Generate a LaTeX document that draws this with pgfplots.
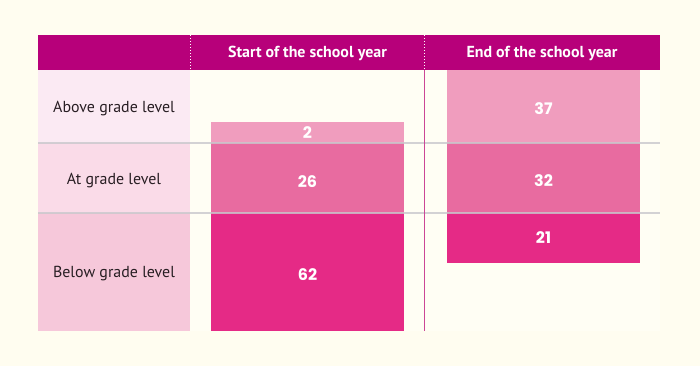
\documentclass[border=0pt]{standalone}
\usepackage{fontspec}
\setmainfont{PT Sans}
\newfontfamily\headfont{PT Sans}
\newfontfamily\numfont{Poppins}
\usepackage{pgfplots}
\pgfplotsset{compat=1.18}
\definecolor{bgcream}{RGB}{255,253,240}
\definecolor{tablebg}{RGB}{255,254,244}
\definecolor{header}{RGB}{183,0,122}
\definecolor{rowA}{RGB}{251,234,243}
\definecolor{rowB}{RGB}{250,219,232}
\definecolor{rowC}{RGB}{246,200,218}
\definecolor{barA}{RGB}{240,157,190}
\definecolor{barB}{RGB}{232,107,160}
\definecolor{barC}{RGB}{229,42,134}
\definecolor{gridgrey}{RGB}{200,200,204}
\definecolor{vline}{RGB}{204,70,150}
\definecolor{labeltext}{RGB}{40,30,35}
\begin{document}
\begin{tikzpicture}
\begin{axis}[scale only axis, width=700bp, height=366bp,
  xmin=0, xmax=700, ymin=0, ymax=366, y dir=reverse,
  hide axis, clip=false]
% background
\fill[bgcream] (axis cs:0,0) rectangle (axis cs:700,366);
\fill[tablebg] (axis cs:38,70) rectangle (axis cs:660,331);
% header
\fill[header] (axis cs:38,35) rectangle (axis cs:660,70);
\draw[white, dotted, line width=1bp] (axis cs:190,35) -- (axis cs:190,70);
\draw[white, dotted, line width=1bp] (axis cs:424,35) -- (axis cs:424,70);
% row label cells
\fill[rowA] (axis cs:38,70) rectangle (axis cs:190,143);
\fill[rowB] (axis cs:38,143) rectangle (axis cs:190,213);
\fill[rowC] (axis cs:38,213) rectangle (axis cs:190,331);
% start of the school year bars (stacked from bottom: 62, 26, 2)
\addplot[fill=barC, draw=none] coordinates {(211,213) (404,213) (404,331) (211,331)} -- cycle;
\addplot[fill=barB, draw=none] coordinates {(211,143) (404,143) (404,213) (211,213)} -- cycle;
\addplot[fill=barA, draw=none] coordinates {(211,122) (404,122) (404,143) (211,143)} -- cycle;
% end of the school year bars (hanging from top: 37, 32, 21)
\addplot[fill=barA, draw=none] coordinates {(447,70) (640,70) (640,143) (447,143)} -- cycle;
\addplot[fill=barB, draw=none] coordinates {(447,143) (640,143) (640,213) (447,213)} -- cycle;
\addplot[fill=barC, draw=none] coordinates {(447,213) (640,213) (640,263) (447,263)} -- cycle;
% grid lines
\draw[gridgrey, line width=1.2bp, opacity=0.8] (axis cs:38,143) -- (axis cs:660,143);
\draw[gridgrey, line width=1.2bp, opacity=0.8] (axis cs:38,213) -- (axis cs:660,213);
% vertical separator
\draw[vline, line width=1bp] (axis cs:424,70) -- (axis cs:424,331);
% values
\addplot[draw=none, nodes near coords, point meta=explicit symbolic,
  every node near coord/.append style={anchor=center, text=white,
  font=\numfont\bfseries\fontsize{16}{16}\selectfont}]
  coordinates {(307.5,133) [2] (307.5,182) [26] (307.5,275) [62]
               (543.5,109) [37] (543.5,181) [32] (543.5,238) [21]};
% header text
\node[text=white, font=\headfont\bfseries\fontsize{16}{16}\selectfont] at (axis cs:307.5,53) {Start of the school year};
\node[text=white, font=\headfont\bfseries\fontsize{16}{16}\selectfont] at (axis cs:542,53) {End of the school year};
% row labels
\node[text=labeltext, font=\fontsize{16}{16}\selectfont] at (axis cs:114,109) {Above grade level};
\node[text=labeltext, font=\fontsize{16}{16}\selectfont] at (axis cs:114,181) {At grade level};
\node[text=labeltext, font=\fontsize{16}{16}\selectfont] at (axis cs:114,274) {Below grade level};
\end{axis}
\end{tikzpicture}
\end{document}
